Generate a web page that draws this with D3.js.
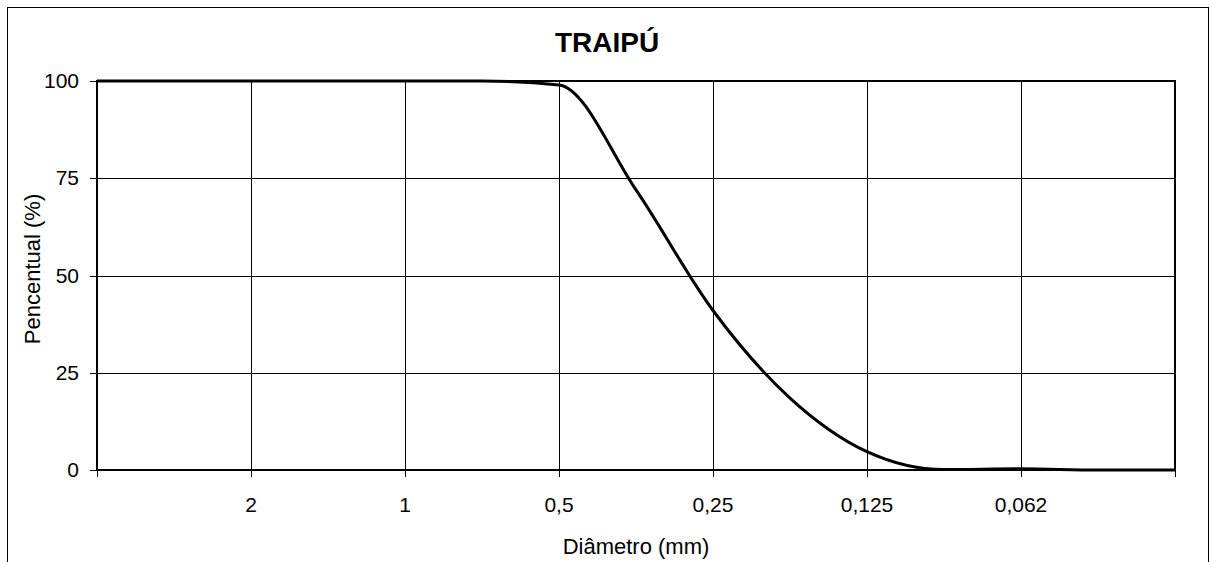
<!DOCTYPE html>
<html><head><meta charset="utf-8">
<script src="https://cdn.jsdelivr.net/npm/d3@7"></script>
<style>body{margin:0;background:#fff}svg{display:block;font-family:"Liberation Sans",Arial,sans-serif}</style>
</head><body><svg id="c" width="1210" height="562"></svg>
<script>
// sieve positions in phi units (0 = 1 mm)
const phi = [-2,-1.5,-1,-0.5,0,0.5,1,1.5,2,2.5,3,3.5,4,4.5,5];
const percent = [100,100,100,100,100,100,99,72,41,18.5,4.7,0.1,0.3,0,0];
const tickPhi = [-2,-1,0,1,2,3,4,5];
const tickLabels = ["","2","1","0,5","0,25","0,125","0,062",""];
const yTicks = [0,25,50,75,100];

const svg = d3.select("#c");
const L=97,R=1175,T=81,B=470;
const x = d3.scaleLinear().domain([-2,5]).range([L,R]);
const y = d3.scaleLinear().domain([0,100]).range([B,T]);

svg.append("rect").attr("x",7.5).attr("y",7.5).attr("width",1201).attr("height",570)
  .attr("fill","#fff").attr("stroke","#000").attr("stroke-width",1);

// grid
svg.append("g").selectAll("line").data(tickPhi).join("line")
  .attr("x1",d=>Math.round(x(d))+0.5).attr("x2",d=>Math.round(x(d))+0.5)
  .attr("y1",T).attr("y2",B+7).attr("stroke","#000").attr("stroke-width",1);
svg.append("g").selectAll("line").data(yTicks).join("line")
  .attr("x1",L-7).attr("x2",R).attr("y1",d=>Math.round(y(d))+0.5).attr("y2",d=>Math.round(y(d))+0.5)
  .attr("stroke","#000").attr("stroke-width",1);

// plot border
svg.append("rect").attr("x",L).attr("y",T).attr("width",R-L).attr("height",B-T)
  .attr("fill","none").attr("stroke","#000").attr("stroke-width",2);

// y labels
svg.append("g").selectAll("text").data(yTicks).join("text")
  .attr("x",79).attr("y",d=>y(d)+7).attr("text-anchor","end")
  .attr("font-size",21).text(d=>d);
// x labels
svg.append("g").selectAll("text").data(tickPhi).join("text")
  .attr("x",(d)=>x(d)).attr("y",512).attr("text-anchor","middle")
  .attr("font-size",21).text((d,i)=>tickLabels[i]);

// curve
const line = d3.line().x((d,i)=>x(phi[i])).y(d=>y(d)).curve(d3.curveMonotoneX);
svg.append("path").datum(percent).attr("d",line).attr("fill","none")
  .attr("stroke","#000").attr("stroke-width",3);

// titles
svg.append("text").attr("x",607).attr("y",52).attr("text-anchor","middle")
  .attr("font-size",28).attr("font-weight","bold").text("TRAIPÚ");
svg.append("text").attr("x",636).attr("y",554).attr("text-anchor","middle")
  .attr("font-size",22).text("Diâmetro (mm)");
svg.append("text").attr("transform","translate(40,269) rotate(-90)").attr("text-anchor","middle")
  .attr("font-size",22).text("Pencentual (%)");
</script></body></html>
